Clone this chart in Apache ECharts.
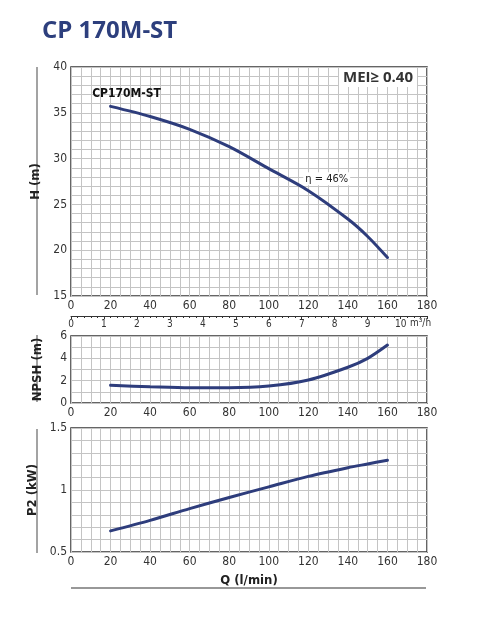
<!DOCTYPE html>
<html>
<head>
<meta charset="utf-8">
<script src="https://cdn.jsdelivr.net/npm/echarts@6/dist/echarts.min.js"></script>
<style>
html,body{margin:0;padding:0;background:#fff;}
#c{width:480px;height:628px;}
</style>
</head>
<body>
<div id="c"></div>
<script>
const flowLpm = [20, 40, 60, 80, 100, 120, 140, 150, 160];
const headM = [35.7, 34.6, 33.2, 31.3, 28.9, 26.5, 23.4, 21.5, 19.2];
const npshM = [1.58, 1.46, 1.37, 1.37, 1.52, 2.06, 3.2, 4.0, 5.19];
const powerKW = [0.67, 0.755, 0.85, 0.94, 1.025, 1.11, 1.18, 1.21, 1.24];
const xTicks = [0, 20, 40, 60, 80, 100, 120, 140, 160, 180];
const m3hTicks = [0, 1, 2, 3, 4, 5, 6, 7, 8, 9, 10];

const FONT = "'Liberation Sans Narrow','DejaVu Sans Condensed','Roboto Condensed',sans-serif";
const CURVE = '#2e3d7c';
const GRIDC = '#c4c4c4';
const TXT = '#333';

function pairs(ys){ return flowLpm.map((q,i)=>[q, ys[i]]); }

const chart = echarts.init(document.getElementById('c'), null, {renderer:'canvas'});

const grids = [
  {left:71, top:67, width:356, height:229},
  {left:71, top:336, width:356, height:67},
  {left:71, top:428, width:356, height:124}
].map(g=>Object.assign({show:true, borderColor:'#333', borderWidth:1.5, backgroundColor:'transparent'}, g));

function qAxis(gi, extra){
  return Object.assign({
    type:'value', gridIndex:gi, min:0, max:180, interval:20,
    axisLine:{show:false}, axisTick:{show:false},
    axisLabel:{fontFamily:FONT, fontSize:12, color:TXT, margin:4},
    splitLine:{show:true, lineStyle:{color:GRIDC, width:1}},
    minorTick:{show:false, splitNumber:4},
    minorSplitLine:{show:true, lineStyle:{color:GRIDC, width:1}}
  }, extra||{});
}
function yAx(gi, min, max, interval, minorN, name, extra){
  return Object.assign({
    type:'value', gridIndex:gi, min:min, max:max, interval:interval,
    name:name, nameLocation:'middle', nameGap:27,
    nameTextStyle:{fontFamily:FONT, fontSize:13, fontWeight:'bold', color:'#222'},
    axisLine:{show:false}, axisTick:{show:false},
    axisLabel:{fontFamily:FONT, fontSize:12, color:TXT, margin:4},
    splitLine:{show:true, lineStyle:{color:GRIDC, width:1}},
    minorTick:{show:false, splitNumber:minorN},
    minorSplitLine:{show:true, lineStyle:{color:GRIDC, width:1}}
  }, extra||{});
}
function curve(ax, ys, extra){
  return Object.assign({type:'line', xAxisIndex:ax, yAxisIndex:ax, data:pairs(ys),
    smooth:0.3, showSymbol:false,
    lineStyle:{color:CURVE, width:3, cap:'round'}}, extra||{});
}

const option = {
  animation:false,
  backgroundColor:'#fff',
  title:{text:'CP 170M-ST', left:37, top:14,
    textStyle:{fontFamily:"'Open Sans',sans-serif", fontSize:24, fontWeight:'bold', color:'#2d3f7d'}},
  grid:grids,
  xAxis:[
    qAxis(0),
    qAxis(1),
    qAxis(2, {name:'Q (l/min)', nameLocation:'middle', nameGap:22,
      nameTextStyle:{fontFamily:FONT, fontSize:13, fontWeight:'bold', color:'#222'}}),
    {
      type:'value', gridIndex:0, position:'bottom', offset:20,
      min:0, max:10.8, interval:1,
      axisLine:{show:true, lineStyle:{color:'#333', width:1}},
      axisTick:{show:true, inside:false, length:3, lineStyle:{color:'#333'}},
      minorTick:{show:true, splitNumber:5, length:2, lineStyle:{color:'#333'}},
      splitLine:{show:false}, minorSplitLine:{show:false},
      axisLabel:{fontFamily:FONT, fontSize:10, color:TXT, margin:3,
        formatter:function(v){ return m3hTicks.indexOf(v) >= 0 ? String(v) : ''; }}
    }
  ],
  yAxis:[
    yAx(0, 15, 40, 5, 5, 'H (m)'),
    yAx(1, 0, 6, 2, 2, 'NPSH (m)'),
    yAx(2, 0.5, 1.5, 0.5, 5, 'P2 (kW)')
  ],
  series:[
    curve(0, headM, {
      markPoint:{symbol:'circle', symbolSize:0, silent:true,
        data:[
          {coord:[flowLpm[0], headM[0]], value:'CP170M-ST',
            label:{show:true, formatter:'CP170M-ST', position:'top', offset:[16,-2],
              fontFamily:FONT, fontSize:12, fontWeight:'bold', color:'#111'}},
          {coord:[flowLpm[5], headM[5]], value:'η = 46%',
            label:{show:true, formatter:'η = 46%', position:'right', offset:[-10,-12],
              fontFamily:FONT, fontSize:11, color:'#222', backgroundColor:'#fff', padding:[1,2]}}
        ]}
    }),
    curve(1, npshM),
    curve(2, powerKW)
  ],
  graphic:[
    {type:'text', right:63, top:68, z:100,
      style:{text:'MEI≥ 0.40', font:"bold 15px 'Open Sans',sans-serif", fill:'#333',
        backgroundColor:'#fff', padding:[2,4]}},
    {type:'text', left:410, top:318,
      style:{text:'m³/h', font:"10px "+FONT, fill:TXT}},
    {type:'line', shape:{x1:37, y1:67, x2:37, y2:295}, style:{stroke:'#666', lineWidth:1.2}},
    {type:'line', shape:{x1:37, y1:335, x2:37, y2:402}, style:{stroke:'#666', lineWidth:1.2}},
    {type:'line', shape:{x1:37, y1:429, x2:37, y2:553}, style:{stroke:'#666', lineWidth:1.2}},
    {type:'line', shape:{x1:71, y1:588, x2:426, y2:588}, style:{stroke:'#333', lineWidth:1.2}}
  ]
};
chart.setOption(option);
</script>
</body>
</html>
